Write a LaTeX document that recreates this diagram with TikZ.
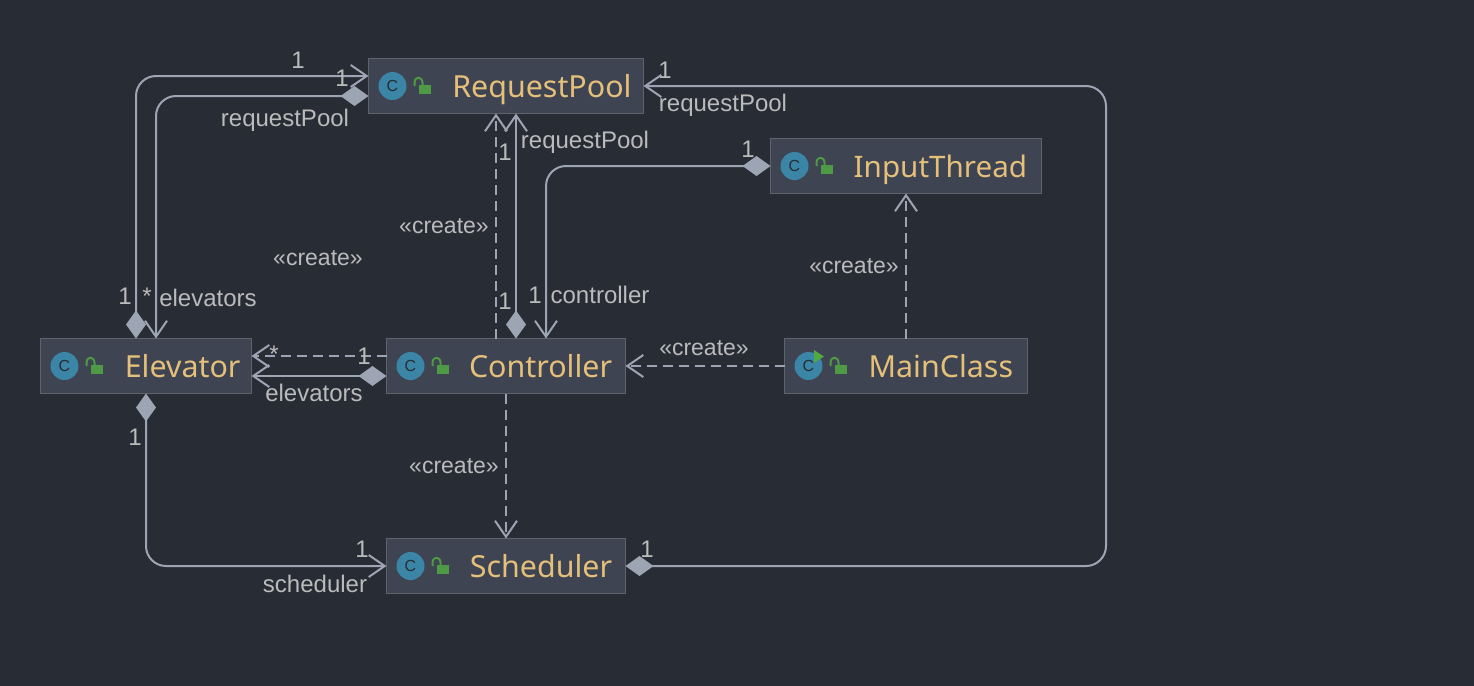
\documentclass[tikz,border=0pt]{standalone}
\usepackage{fontspec}
\setmainfont{Liberation Sans}
\newfontfamily\namefont{Noto Sans}
\usetikzlibrary{arrows.meta}

\definecolor{bgcol}{HTML}{282C34}
\definecolor{boxcol}{HTML}{3E4451}
\definecolor{edgecol}{HTML}{5F636B}
\definecolor{linecol}{HTML}{9DA5B4}
\definecolor{textcol}{HTML}{BBBBBB}
\definecolor{namecol}{HTML}{E5C07B}
\definecolor{badgecol}{HTML}{3B85A6}
\definecolor{lockcol}{HTML}{4F9B45}
\definecolor{runcol}{HTML}{4FAB3F}

\tikzset{
	classbox/.style={draw=edgecol,fill=boxcol,line width=.7pt,minimum height=27.5pt,inner sep=0pt,outer sep=0pt},
	classname/.style={text=namecol,font=\namefont\fontsize{15.2}{17}\selectfont,anchor=base east,inner sep=0pt},
	iconbadge/.style={circle,fill=badgecol,minimum size=14pt,inner sep=0pt,text=bgcol,font=\fontsize{8}{9}\selectfont},
	lbl/.style={text=textcol,font=\fontsize{12}{14}\selectfont,inner sep=0pt},
	createlbl/.style={lbl,font=\fontsize{11.5}{14}\selectfont},
	assoc/.style={draw=linecol,line width=1pt,rounded corners=10pt,-{Straight Barb[length=8pt,width=11pt,line width=1pt]}},
	owned/.style={assoc,{Diamond[length=14pt,width=10pt,fill=linecol]}-{Straight Barb[length=8pt,width=11pt,line width=1pt]}},
	depend/.style={assoc,dash pattern=on 5pt off 3pt},
	lockmark/.pic={
		\fill[lockcol] (4,-1) rectangle (16,8);
		\draw[lockcol,line width=1pt] (0,0) -- (0,-3) .. controls (0,-10) and (8,-10) .. (8,-3) -- (8,0);
	},
}

\begin{document}
\begin{tikzpicture}[x=.5pt,y=-.5pt]
	\fill[bgcol] (0,0) rectangle (1474,686);
	\useasboundingbox (0,0) rectangle (1474,686);

	% classes
	\node[classbox,minimum width=137.5pt] (requestPool) at (506,86) {};
	\node[classbox,minimum width=135.5pt] (inputThread) at (906,166) {};
	\node[classbox,minimum width=105.5pt] (elevator) at (146,366) {};
	\node[classbox,minimum width=119.5pt] (controller) at (506,366) {};
	\node[classbox,minimum width=121.5pt] (mainClass) at (906,366) {};
	\node[classbox,minimum width=119.5pt] (scheduler) at (506,566) {};
	\node[classname] (requestPoolName) at ([xshift=-5.8pt,yshift=-5.85pt]requestPool.east) {RequestPool};
	\node[classname,font=\namefont\fontsize{14.8}{17}\selectfont] (inputThreadName) at ([xshift=-7pt,yshift=-5.85pt]inputThread.east) {InputThread};
	\node[classname] (elevatorName) at ([xshift=-5.3pt,yshift=-5.85pt]elevator.east) {Elevator};
	\node[classname] (controllerName) at ([xshift=-6.5pt,yshift=-5.85pt]controller.east) {Controller};
	\node[classname] (mainClassName) at ([xshift=-7pt,yshift=-5.85pt]mainClass.east) {MainClass};
	\node[classname] (schedulerName) at ([xshift=-6.5pt,yshift=-5.85pt]scheduler.east) {Scheduler};
	\foreach \cls in {requestPool,inputThread,elevator,controller,mainClass,scheduler} {
		\node[iconbadge] (\cls Icon) at ([xshift=12pt]\cls.west) {C};
		\pic at ([xshift=23pt]\cls.west) {lockmark};
	}
	\fill[runcol] (814,350) -- (824,356.5) -- (814,363) -- cycle;

	% turning point on the far right
	\coordinate (rightTurn) at (1106,326);

	% connectors
	\draw[owned] ([xshift=-5pt]elevator.north) |- ([yshift=5pt]requestPool.west);
	\draw[owned] ([yshift=-5pt]requestPool.west) -| ([xshift=5pt]elevator.north);
	\draw[depend] ([xshift=-5pt]controller.north) -- ([xshift=-5pt]requestPool.south);
	\draw[owned] ([xshift=5pt]controller.north) -- ([xshift=5pt]requestPool.south);
	\draw[owned] (inputThread.west) -| ([xshift=20pt]controller.north);
	\draw[depend] (mainClass.north) -- (inputThread.south);
	\draw[depend] (mainClass.west) -- (controller.east);
	\draw[depend] ([yshift=5pt]controller.west) -- ([yshift=5pt]elevator.east);
	\draw[owned] ([yshift=-5pt]controller.west) -- ([yshift=-5pt]elevator.east);
	\draw[depend] (controller.south) -- (scheduler.north);
	\draw[owned] (elevator.south) |- (scheduler.west);
	\draw[owned] (scheduler.east) -| (rightTurn) |- (requestPool.east);

	% labels
	\node[lbl] (pool1) at (298,60) {1};
	\node[lbl] (pool2) at (342,78) {1};
	\node[lbl] (poolRef1) at (285,120) {requestPool};
	\node[lbl] (pool3) at (665,70) {1};
	\node[lbl] (poolRef2) at (723,105) {requestPool};
	\node[lbl] (poolRef3) at (585,142) {requestPool};
	\node[lbl] (pool4) at (505,152) {1};
	\node[lbl] (input1) at (748,149) {1};
	\node[createlbl] (create1) at (444,226) {«create»};
	\node[createlbl] (create2) at (318,258) {«create»};
	\node[createlbl] (create3) at (854,266) {«create»};
	\node[createlbl] (create4) at (704,348) {«create»};
	\node[createlbl] (create5) at (454,466) {«create»};
	\node[lbl] (elev1) at (125,296) {1};
	\node[lbl] (elevMany1) at (147,296) {*};
	\node[lbl] (elevRef1) at (208,298) {elevators};
	\node[lbl] (ctrl1) at (505,301) {1};
	\node[lbl] (ctrl2) at (535,295) {1};
	\node[lbl] (ctrlRef) at (600,295) {controller};
	\node[lbl] (elevMany2) at (274,354) {*};
	\node[lbl] (ctrl3) at (364,356) {1};
	\node[lbl] (elevRef2) at (314,393) {elevators};
	\node[lbl] (elev2) at (135,437) {1};
	\node[lbl] (sched1) at (362,549) {1};
	\node[lbl] (schedRef) at (315,584) {scheduler};
	\node[lbl] (sched2) at (647,549) {1};
\end{tikzpicture}
\end{document}
